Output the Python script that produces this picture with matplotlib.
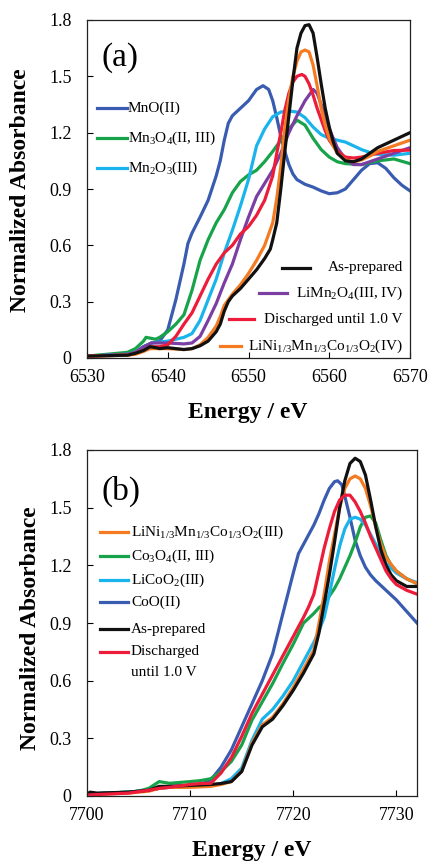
import matplotlib
matplotlib.use("Agg")
import matplotlib.pyplot as plt

plt.rcParams['font.family'] = ['Liberation Serif', 'DejaVu Serif']
plt.rcParams['mathtext.default'] = 'regular'

# ---------------- Panel (a): Mn K-edge ----------------
a_black_x = [6530, 6535, 6536, 6537, 6537.8, 6538.5, 6539, 6540, 6541, 6542, 6543, 6544, 6545, 6546, 6546.5, 6547, 6547.5, 6548, 6549, 6550, 6551, 6552, 6552.7, 6553, 6553.5, 6554, 6554.5, 6555, 6555.5, 6556, 6556.5, 6557, 6557.5, 6558, 6558.5, 6559, 6559.5, 6560, 6560.5, 6561, 6562, 6563, 6564, 6565, 6566, 6567, 6568, 6569, 6570]
a_black_y = [0.01, 0.015, 0.025, 0.04, 0.06, 0.055, 0.05, 0.055, 0.05, 0.045, 0.05, 0.065, 0.09, 0.14, 0.18, 0.25, 0.30, 0.33, 0.37, 0.42, 0.47, 0.53, 0.58, 0.63, 0.72, 0.90, 1.10, 1.29, 1.48, 1.65, 1.73, 1.77, 1.775, 1.73, 1.60, 1.46, 1.33, 1.23, 1.15, 1.09, 1.05, 1.045, 1.06, 1.09, 1.12, 1.14, 1.16, 1.18, 1.20]

a_orange_x = [6530, 6535, 6536, 6537, 6537.8, 6538.5, 6540, 6542, 6543, 6544, 6545, 6546, 6546.5, 6547, 6548, 6549, 6550, 6551, 6552, 6553, 6553.5, 6554, 6554.5, 6555, 6555.5, 6556, 6556.5, 6557, 6557.5, 6558, 6558.5, 6559, 6559.5, 6560, 6561, 6562, 6563, 6564, 6565, 6566, 6568, 6570]
a_orange_y = [0.01, 0.015, 0.02, 0.035, 0.05, 0.05, 0.05, 0.045, 0.05, 0.07, 0.11, 0.17, 0.22, 0.28, 0.34, 0.39, 0.45, 0.52, 0.60, 0.72, 0.85, 1.02, 1.22, 1.38, 1.50, 1.58, 1.63, 1.64, 1.63, 1.56, 1.45, 1.33, 1.24, 1.17, 1.09, 1.055, 1.045, 1.055, 1.075, 1.10, 1.13, 1.16]

a_red_x = [6530, 6535, 6536, 6537, 6537.8, 6539, 6540, 6541, 6542, 6543, 6544, 6545, 6546, 6547, 6548, 6549, 6550, 6551, 6552, 6553, 6553.5, 6554, 6554.5, 6555, 6555.5, 6556, 6556.6, 6557, 6557.5, 6558, 6558.5, 6559, 6559.5, 6560, 6561, 6562, 6563, 6564, 6565, 6566, 6568, 6570]
a_red_y = [0.01, 0.015, 0.025, 0.04, 0.06, 0.06, 0.07, 0.115, 0.18, 0.24, 0.33, 0.42, 0.50, 0.56, 0.60, 0.66, 0.70, 0.76, 0.84, 0.97, 1.09, 1.20, 1.32, 1.41, 1.47, 1.50, 1.51, 1.50, 1.46, 1.40, 1.33, 1.27, 1.21, 1.16, 1.10, 1.07, 1.065, 1.07, 1.08, 1.09, 1.105, 1.107]

a_purple_x = [6530, 6535, 6536, 6537, 6538, 6540, 6542, 6543, 6544, 6545, 6546, 6547, 6548, 6549, 6550, 6551, 6552, 6553, 6554, 6555, 6556, 6557, 6558, 6558.5, 6559, 6559.5, 6560, 6561, 6562, 6563, 6564, 6565, 6566, 6568, 6570]
a_purple_y = [0.01, 0.02, 0.03, 0.06, 0.08, 0.08, 0.075, 0.08, 0.115, 0.20, 0.29, 0.40, 0.50, 0.63, 0.75, 0.86, 0.93, 1.00, 1.09, 1.20, 1.29, 1.37, 1.43, 1.41, 1.35, 1.29, 1.22, 1.12, 1.06, 1.03, 1.03, 1.045, 1.06, 1.09, 1.12]

a_cyan_x = [6530, 6535, 6536, 6537, 6538, 6540, 6542, 6543, 6544, 6545, 6546, 6547, 6548, 6549, 6550, 6551, 6552, 6553, 6554, 6555, 6556, 6557, 6558, 6559, 6560, 6561, 6562, 6563, 6564, 6565, 6566, 6568, 6570]
a_cyan_y = [0.01, 0.02, 0.03, 0.06, 0.08, 0.09, 0.11, 0.13, 0.20, 0.31, 0.42, 0.56, 0.68, 0.81, 0.95, 1.13, 1.22, 1.285, 1.31, 1.315, 1.31, 1.28, 1.23, 1.19, 1.17, 1.16, 1.15, 1.13, 1.11, 1.095, 1.085, 1.08, 1.09]

a_green_x = [6530, 6535, 6536, 6537, 6537.3, 6538.5, 6539, 6540, 6541, 6542, 6543, 6544, 6545, 6546, 6547, 6548, 6549, 6550, 6551, 6552, 6553, 6554, 6555, 6556, 6557, 6558, 6559, 6560, 6561, 6562, 6564, 6566, 6568, 6570]
a_green_y = [0.01, 0.03, 0.05, 0.09, 0.11, 0.10, 0.11, 0.14, 0.18, 0.23, 0.36, 0.52, 0.63, 0.72, 0.79, 0.88, 0.94, 0.975, 1.00, 1.046, 1.10, 1.16, 1.22, 1.267, 1.24, 1.17, 1.11, 1.07, 1.045, 1.035, 1.03, 1.05, 1.06, 1.035]

a_blue_x = [6530, 6535, 6536, 6537, 6538, 6539, 6540, 6541, 6542, 6542.5, 6543, 6544, 6545, 6546, 6546.5, 6547, 6547.5, 6548, 6549, 6550, 6551, 6551.8, 6552.5, 6553, 6553.5, 6554, 6554.5, 6555, 6555.5, 6556, 6557, 6558, 6559, 6560, 6561, 6562, 6563, 6564, 6565, 6566, 6567, 6568, 6569, 6570]
a_blue_y = [0.01, 0.02, 0.03, 0.06, 0.08, 0.09, 0.15, 0.31, 0.50, 0.61, 0.665, 0.75, 0.84, 0.97, 1.05, 1.16, 1.25, 1.29, 1.33, 1.37, 1.43, 1.45, 1.43, 1.37, 1.28, 1.18, 1.10, 1.03, 0.98, 0.95, 0.925, 0.91, 0.89, 0.875, 0.88, 0.90, 0.95, 1.00, 1.035, 1.04, 1.01, 0.96, 0.92, 0.89]

# ---------------- Panel (b): Co K-edge ----------------
b_black_x = [7700, 7700.3, 7701, 7704, 7706, 7707, 7708, 7710, 7712, 7713, 7714, 7715, 7716, 7717, 7718, 7719, 7720, 7721, 7722, 7722.5, 7723, 7723.5, 7724, 7724.5, 7725, 7725.5, 7726, 7726.5, 7727, 7727.5, 7728, 7728.5, 7729, 7729.5, 7730, 7731, 7732]
b_black_y = [0.01, 0.02, 0.015, 0.02, 0.03, 0.05, 0.05, 0.055, 0.06, 0.065, 0.075, 0.127, 0.265, 0.36, 0.40, 0.47, 0.55, 0.64, 0.74, 0.85, 1.00, 1.15, 1.32, 1.50, 1.64, 1.73, 1.757, 1.74, 1.67, 1.54, 1.40, 1.28, 1.20, 1.15, 1.12, 1.09, 1.09]

b_orange_x = [7700, 7701, 7704, 7706, 7707, 7708, 7710, 7712, 7713, 7714, 7715, 7716, 7717, 7718, 7719, 7720, 7721, 7722, 7722.5, 7723, 7723.5, 7724, 7724.5, 7725, 7725.5, 7726, 7726.5, 7727, 7727.5, 7728, 7728.5, 7729, 7730, 7731, 7732]
b_orange_y = [0.005, 0.01, 0.015, 0.025, 0.04, 0.045, 0.045, 0.05, 0.06, 0.075, 0.13, 0.275, 0.37, 0.41, 0.48, 0.565, 0.66, 0.76, 0.90, 1.05, 1.22, 1.36, 1.50, 1.60, 1.65, 1.665, 1.65, 1.60, 1.51, 1.40, 1.31, 1.24, 1.17, 1.13, 1.105]

b_cyan_x = [7700, 7704, 7706, 7707, 7708, 7710, 7712, 7713, 7714, 7715, 7716, 7717, 7718, 7719, 7720, 7721, 7722, 7722.5, 7723, 7723.5, 7724, 7724.5, 7725, 7725.5, 7726, 7726.5, 7727, 7727.5, 7728, 7728.5, 7729, 7730, 7731, 7732]
b_cyan_y = [0.01, 0.02, 0.03, 0.04, 0.045, 0.05, 0.055, 0.065, 0.09, 0.145, 0.29, 0.40, 0.45, 0.52, 0.60, 0.70, 0.80, 0.86, 0.93, 1.05, 1.18, 1.30, 1.39, 1.44, 1.45, 1.44, 1.41, 1.36, 1.31, 1.26, 1.21, 1.16, 1.13, 1.11]

b_green_x = [7700, 7704, 7705, 7706, 7707, 7708, 7710, 7711, 7712, 7713, 7714, 7715, 7716, 7717, 7718, 7719, 7720, 7721, 7722, 7722.5, 7723, 7723.5, 7724, 7724.5, 7725, 7725.5, 7726, 7726.5, 7727, 7727.5, 7728, 7728.5, 7729, 7729.5, 7730, 7731, 7732]
b_green_y = [0.01, 0.02, 0.025, 0.04, 0.075, 0.066, 0.075, 0.08, 0.09, 0.127, 0.18, 0.265, 0.395, 0.49, 0.585, 0.69, 0.79, 0.90, 0.95, 0.98, 1.00, 1.04, 1.08, 1.13, 1.19, 1.25, 1.32, 1.40, 1.45, 1.457, 1.42, 1.33, 1.25, 1.20, 1.17, 1.13, 1.105]

b_red_x = [7700, 7704, 7706, 7707, 7708, 7710, 7711, 7712, 7713, 7714, 7715, 7716, 7717, 7718, 7719, 7720, 7721, 7721.5, 7722, 7722.5, 7723, 7723.5, 7724, 7724.5, 7725, 7725.5, 7726, 7726.5, 7727, 7727.5, 7728, 7728.5, 7729, 7729.5, 7730, 7731, 7732]
b_red_y = [0.005, 0.015, 0.03, 0.04, 0.045, 0.06, 0.065, 0.066, 0.12, 0.20, 0.31, 0.43, 0.53, 0.63, 0.73, 0.83, 0.93, 0.985, 1.05, 1.17, 1.29, 1.39, 1.48, 1.54, 1.565, 1.565, 1.53, 1.48, 1.42, 1.35, 1.29, 1.23, 1.17, 1.13, 1.10, 1.07, 1.05]

b_blue_x = [7700, 7704, 7706, 7707, 7708, 7710, 7711, 7712, 7713, 7714, 7715, 7716, 7717, 7718, 7719, 7720, 7720.5, 7721, 7721.5, 7722, 7722.5, 7723, 7723.5, 7724, 7724.3, 7724.7, 7725, 7725.5, 7726, 7726.5, 7727, 7727.5, 7728, 7729, 7730, 7731, 7732]
b_blue_y = [0.01, 0.02, 0.03, 0.04, 0.05, 0.05, 0.06, 0.083, 0.15, 0.24, 0.36, 0.48, 0.60, 0.74, 0.95, 1.16, 1.26, 1.31, 1.36, 1.41, 1.47, 1.54, 1.60, 1.635, 1.64, 1.62, 1.56, 1.45, 1.33, 1.25, 1.19, 1.15, 1.12, 1.07, 1.02, 0.96, 0.90]

yticks = [0, 0.3, 0.6, 0.9, 1.2, 1.5, 1.8]
yticklabels = ['0', '0.3', '0.6', '0.9', '1.2', '1.5', '1.8']
a_xticks = [6530, 6540, 6550, 6560, 6570]
b_xticks = [7700, 7710, 7720, 7730]

C_BLUE = '#3a5cb0'
C_GREEN = '#17a34a'
C_CYAN = '#1ab4ec'
C_PURPLE = '#7b3fa3'
C_RED = '#ec1c3a'
C_ORANGE = '#f57b22'
C_BLACK = '#111111'
LW = 2.3

W, H = 428, 861
fig = plt.figure(figsize=(W / 100, H / 100), dpi=100)

def px_axes(l, t, r, b):
    return [l / W, 1 - b / H, (r - l) / W, (b - t) / H]

axA = fig.add_axes(px_axes(87, 20, 410, 358))
axB = fig.add_axes(px_axes(87, 450, 417, 796))

# panel (a) curves
axA.plot(a_blue_x, a_blue_y, color=C_BLUE, lw=LW)
axA.plot(a_green_x, a_green_y, color=C_GREEN, lw=LW)
axA.plot(a_cyan_x, a_cyan_y, color=C_CYAN, lw=LW)
axA.plot(a_purple_x, a_purple_y, color=C_PURPLE, lw=LW)
axA.plot(a_red_x, a_red_y, color=C_RED, lw=LW)
axA.plot(a_orange_x, a_orange_y, color=C_ORANGE, lw=LW)
axA.plot(a_black_x, a_black_y, color=C_BLACK, lw=LW)

# panel (b) curves
axB.plot(b_blue_x, b_blue_y, color=C_BLUE, lw=LW)
axB.plot(b_green_x, b_green_y, color=C_GREEN, lw=LW)
axB.plot(b_cyan_x, b_cyan_y, color=C_CYAN, lw=LW)
axB.plot(b_orange_x, b_orange_y, color=C_ORANGE, lw=LW)
axB.plot(b_black_x, b_black_y, color=C_BLACK, lw=LW)
axB.plot(b_red_x, b_red_y, color=C_RED, lw=LW)

for ax, xt, xl in [(axA, a_xticks, (6530, 6570)), (axB, b_xticks, (7700, 7732))]:
    ax.set_xlim(*xl)
    ax.set_ylim(0, 1.8)
    ax.set_xticks(xt)
    ax.set_xticklabels([str(v) for v in xt])
    ax.set_yticks(yticks)
    ax.set_yticklabels(yticklabels)
    ax.tick_params(axis='both', direction='in', length=4, width=0.8, labelsize=13, top=False, right=False)
    ax.tick_params(axis='x', pad=8)
    ax.tick_params(axis='y', pad=11)
    for s in ax.spines.values():
        s.set_linewidth(0.9)
        s.set_color('#222222')
    ax.set_xlabel('Energy / eV', fontsize=17, fontweight='bold')
    ax.set_ylabel('Normalized Absorbance', fontsize=17, fontweight='bold')

axA.yaxis.set_label_coords(-0.172, 0.497)
axA.xaxis.set_label_coords(0.498, -0.13)
axB.yaxis.set_label_coords(-0.14, 0.486)
axB.xaxis.set_label_coords(0.5, -0.126)
axA.xaxis.label.set_va('top')
axB.xaxis.label.set_va('top')

axA.text(0.102, 0.89, '(a)', transform=axA.transAxes, fontsize=24, ha='center', va='center')
axB.text(0.103, 0.88, '(b)', transform=axB.transAxes, fontsize=24, ha='center', va='center')

LEG_FS = 11

def handle(ax, box, x0, x1, y, color):
    l, t, r, b = box
    fx0 = (x0 - l) / (r - l)
    fx1 = (x1 - l) / (r - l)
    fy = (b - y) / (b - t)
    ax.plot([fx0, fx1], [fy, fy], color=color, lw=LW, transform=ax.transAxes, clip_on=False)

def label(ax, box, x, y, s, ha='left'):
    l, t, r, b = box
    ax.text((x - l) / (r - l), (b - y) / (b - t), s, transform=ax.transAxes,
            fontsize=LEG_FS, ha=ha, va='center')

boxA = (87, 20, 410, 358)
boxB = (87, 450, 417, 796)

# legend (a) upper-left
a_leg1 = [('MnO(II)', C_BLUE, 108), ('Mn$_3$O$_4$(II, III)', C_GREEN, 138), ('Mn$_2$O$_3$(III)', C_CYAN, 168)]
for s, c, y in a_leg1:
    handle(axA, boxA, 97, 127, y, c)
    label(axA, boxA, 128, y, s)

# legend (a) lower-right
a_leg2 = [('As-prepared', C_BLACK, 268, 282, 310),
          ('LiMn$_2$O$_4$(III, IV)', C_PURPLE, 293, 259, 287),
          ('Discharged until 1.0 V', C_RED, 319, 229, 254),
          ('LiNi$_{1/3}$Mn$_{1/3}$Co$_{1/3}$O$_2$(IV)', C_ORANGE, 346, 220, 241)]
for s, c, y, x0, x1 in a_leg2:
    handle(axA, boxA, x0, x1, y, c)
    label(axA, boxA, 403, y, s, ha='right')

# legend (b)
b_leg = [('LiNi$_{1/3}$Mn$_{1/3}$Co$_{1/3}$O$_2$(III)', C_ORANGE, 532),
         ('Co$_3$O$_4$(II, III)', C_GREEN, 556),
         ('LiCoO$_2$(III)', C_CYAN, 580),
         ('CoO(II)', C_BLUE, 602),
         ('As-prepared', C_BLACK, 629),
         ('Discharged\nuntil 1.0 V', C_RED, 652)]
for s, c, y in b_leg:
    handle(axB, boxB, 100, 128, y, c)
    if '\n' in s:
        l1, l2 = s.split('\n')
        label(axB, boxB, 131, y, l1)
        label(axB, boxB, 131, y + 20, l2)
    else:
        label(axB, boxB, 131, y, s)

fig.savefig('out.png', dpi=100)
